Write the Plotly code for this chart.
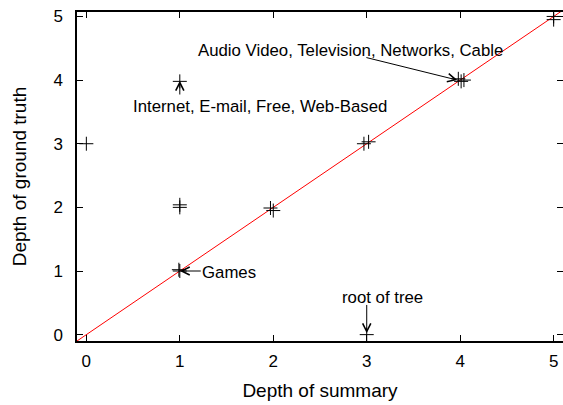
import plotly.graph_objects as go

# Data
summary_depth = [0, 1, 1, 1, 0.99, 1.0, 1.97, 2.0, 2.97, 3.02, 3, 3.98, 4.01, 4.04, 5.0, 5.0]
truth_depth = [3, 3.98, 2.0, 2.04, 1.02, 1.0, 1.99, 1.95, 3.0, 3.03, 0, 4.02, 3.98, 4.0, 5.0, 4.95]

ideal_x = [-0.1, 5.1]
ideal_y = [-0.1, 5.1]

tick_vals = [0, 1, 2, 3, 4, 5]
tick_text = ["0", "1", "2", "3", "4", "5"]

# annotation labels: text, position, arrow head, arrow tail
labels = ["Audio Video, Television, Networks, Cable",
          "Internet, E-mail, Free, Web-Based",
          "Games",
          "root of tree"]
label_x = [1.17, 0.48, 1.22, 3.17]
label_y = [4.47, 3.58, 0.98, 0.59]
label_anchor = ["left", "left", "left", "center"]
head_x = [3.97, 1.0, 1.0, 3.0]
head_y = [4.0, 3.99, 1.0, 0.02]
tail_x = [2.98, 1.0, 1.24, 3.0]
tail_y = [4.36, 3.75, 1.0, 0.49]

FONT = "Liberation Sans, Arial, sans-serif"

fig = go.Figure()
fig.add_trace(go.Scatter(x=ideal_x, y=ideal_y, mode="lines",
                         line=dict(color="red", width=1), showlegend=False,
                         hoverinfo="skip"))
fig.add_trace(go.Scatter(x=summary_depth, y=truth_depth, mode="markers",
                         marker=dict(symbol="cross-thin", size=10,
                                     line=dict(color="black", width=1)),
                         showlegend=False))

anns = []
for t, x, y, a in zip(labels, label_x, label_y, label_anchor):
    anns.append(dict(x=x, y=y, xref="x", yref="y", text=t, showarrow=False,
                     xanchor=a, yanchor="middle",
                     font=dict(family=FONT, size=16.8, color="black")))
for hx, hy, tx, ty in zip(head_x, head_y, tail_x, tail_y):
    anns.append(dict(x=hx, y=hy, xref="x", yref="y", ax=tx, ay=ty,
                     axref="x", ayref="y", text="", showarrow=True,
                     arrowhead=5, arrowsize=1.6, arrowwidth=1,
                     arrowcolor="black", standoff=0, startstandoff=0))

axis_common = dict(showgrid=False, zeroline=False, showline=True,
                   linecolor="black", linewidth=1.5, mirror="allticks",
                   ticks="inside", ticklen=6, tickcolor="black", tickwidth=1,
                   tickvals=tick_vals, ticktext=tick_text, automargin=False,
                   tickfont=dict(family=FONT, size=17, color="black"))

fig.update_layout(
    width=563, height=405,
    margin=dict(l=77, r=0, t=12, b=64),
    plot_bgcolor="white", paper_bgcolor="white",
    xaxis=dict(range=[-0.1, 5.1], ticklabelstandoff=4,
               title=dict(text="Depth of summary", standoff=14,
                          font=dict(family=FONT, size=19, color="black")),
               **axis_common),
    yaxis=dict(range=[-0.1, 5.07], ticklabelstandoff=9,
               title=dict(text="Depth of ground truth", standoff=22,
                          font=dict(family=FONT, size=19, color="black")),
               **axis_common),
    annotations=anns,
)

fig.write_html("out.html", config={"displayModeBar": False},
               post_script="document.body.style.margin='0';document.body.style.overflow='hidden';")
